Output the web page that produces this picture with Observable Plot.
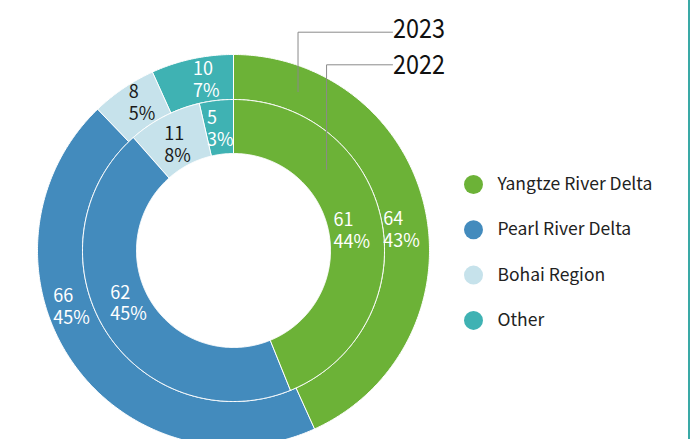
<!DOCTYPE html>
<html>
<head>
<meta charset="utf-8">
<script src="https://cdn.jsdelivr.net/npm/d3@7"></script>
<script src="https://cdn.jsdelivr.net/npm/@observablehq/plot@0.6"></script>
<style>
  html, body { margin: 0; padding: 0; background: #fff; }
  #wrap { position: relative; width: 690px; height: 439px; overflow: hidden; }
  #edge { position: absolute; right: 0; top: 0; width: 2px; height: 439px; background: #3aa9a6; }
  svg { font-family: "Noto Sans CJK SC", "Source Sans Pro", sans-serif; }
</style>
</head>
<body>
<div id="wrap"><div id="edge"></div></div>
<script>
// ---- data ----
const regions = ["Yangtze River Delta", "Pearl River Delta", "Bohai Region", "Other"];
const colors = ["#6cb237", "#438bbd", "#c6e2eb", "#3fb2b3"];
const years = ["2023", "2022"];
const values2023 = [64, 66, 8, 10];
const values2022 = [61, 62, 11, 5];
const pct2023 = ["43%", "45%", "5%", "7%"];
const pct2022 = ["44%", "45%", "8%", "3%"];

// ---- layout (pixels are converted to units where outer radius = 1) ----
const W = 690, H = 439, CX = 233, CY = 250, R = 196;
const px = v => v / R;
const rings = {
  "2023": { r0: px(151), r1: 1, values: values2023, pct: pct2023 },
  "2022": { r0: px(97), r1: px(151), values: values2022, pct: pct2022 }
};
// label nudges: [angle offset in degrees, radial offset in px]
const nudge = {
  "2023": [[4.7, -5], [15.4, -1.5], [2.3, 1.5], [2.9, 0]],
  "2022": [[1.3, -5], [5.6, -6], [-0.8, -3], [0, -1]]
};
const rad = d => d * Math.PI / 180;
const polar = (r, deg) => ({ x: r * Math.sin(rad(deg)), y: r * Math.cos(rad(deg)) });

const arcPts = [];
const labels = [];
for (const yr of years) {
  const ring = rings[yr];
  const total = d3.sum(ring.values);
  let acc = 0;
  ring.values.forEach((v, i) => {
    const a0 = acc / total * 360, a1 = (acc + v) / total * 360;
    acc += v;
    const id = yr + "-" + i;
    const n = Math.max(2, Math.ceil((a1 - a0) / 0.5));
    for (let k = 0; k <= n; k++) {
      const p = polar(ring.r1, a0 + (a1 - a0) * k / n);
      arcPts.push({ id, region: regions[i], ...p });
    }
    for (let k = n; k >= 0; k--) {
      const p = polar(ring.r0, a0 + (a1 - a0) * k / n);
      arcPts.push({ id, region: regions[i], ...p });
    }
    const [da, dr] = nudge[yr][i];
    const mid = (a0 + a1) / 2 + da;
    const rm = (ring.r0 + ring.r1) / 2 + px(dr);
    const c = polar(rm, mid);
    const l1 = String(v), l2 = ring.pct[i];
    const wid = Math.max(l1.length * 9.6, (l2.length - 1) * 9.6 + 15.5);
    labels.push({ x: c.x - px(wid / 2), y: c.y, text: l1 + "\n" + l2, dark: regions[i] === "Bohai Region" });
  });
}

// year callouts
const yearLabelX = px(392 - CX);
const yearLineY = { "2023": px(CY - 31.7), "2022": px(CY - 64.3) };
const yearTextY = { "2023": px(CY - 28.6), "2022": px(CY - 65.2) };
const yearAnchor = { "2023": polar((rings["2023"].r0 + rings["2023"].r1) / 2 - px(2), 22.1),
                     "2022": polar((rings["2022"].r0 + rings["2022"].r1) / 2 - px(0.5), 48.9) };
const leaders = [];
for (const yr of years) {
  const a = yearAnchor[yr];
  leaders.push({ yr, x: a.x, y: a.y });
  leaders.push({ yr, x: a.x, y: yearLineY[yr] });
  leaders.push({ yr, x: yearLabelX, y: yearLineY[yr] });
}
const yearText = years.map(yr => ({ yr, x: yearLabelX + px(0.5), y: yearTextY[yr] }));

// legend
const legX = px(473 - CX), legTX = px(497 - CX), legY0 = px(CY - 184), legStep = px(45.3);
const legend = regions.map((r, i) => ({ region: r, y: legY0 - i * legStep }));

const chart = Plot.plot({
  width: W, height: H,
  margin: 0,
  x: { domain: [-px(CX), px(W - CX)], range: [0, W], axis: null },
  y: { domain: [px(CY), -px(H - CY)], range: [0, H], axis: null },
  color: { domain: regions, range: colors },
  marks: [
    Plot.line(arcPts, { x: "x", y: "y", z: "id", fill: "region", stroke: "white", strokeWidth: 1, curve: "linear-closed" }),
    Plot.text(labels.filter(d => !d.dark), { x: "x", y: "y", text: "text", textAnchor: "start", lineAnchor: "middle", lineHeight: 1.22, fontSize: 18, fill: "white" }),
    Plot.text(labels.filter(d => d.dark), { x: "x", y: "y", text: "text", textAnchor: "start", lineAnchor: "middle", lineHeight: 1.22, fontSize: 18, fill: "#1a1a1a" }),
    Plot.line(leaders, { x: "x", y: "y", z: "yr", stroke: "#8a8a8a", strokeWidth: 1 }),
    Plot.text(yearText, { x: "x", y: "y", text: "yr", textAnchor: "start", lineAnchor: "middle", fontSize: 27, fill: "#111", className: "yearlbl" }),
    Plot.dot(legend, { x: () => legX, y: "y", r: 9.5, fill: "region", stroke: null }),
    Plot.text(legend, { x: () => legTX, y: "y", text: "region", textAnchor: "start", lineAnchor: "middle", fontSize: 17.5, fill: "#222" })
  ]
});
// condense the year callouts to the reference's narrow digits
d3.select(chart).selectAll("text").filter(function () { return years.includes(this.textContent); })
  .attr("textLength", 52).attr("lengthAdjust", "spacingAndGlyphs");
document.getElementById("wrap").prepend(chart);
</script>
</body>
</html>
